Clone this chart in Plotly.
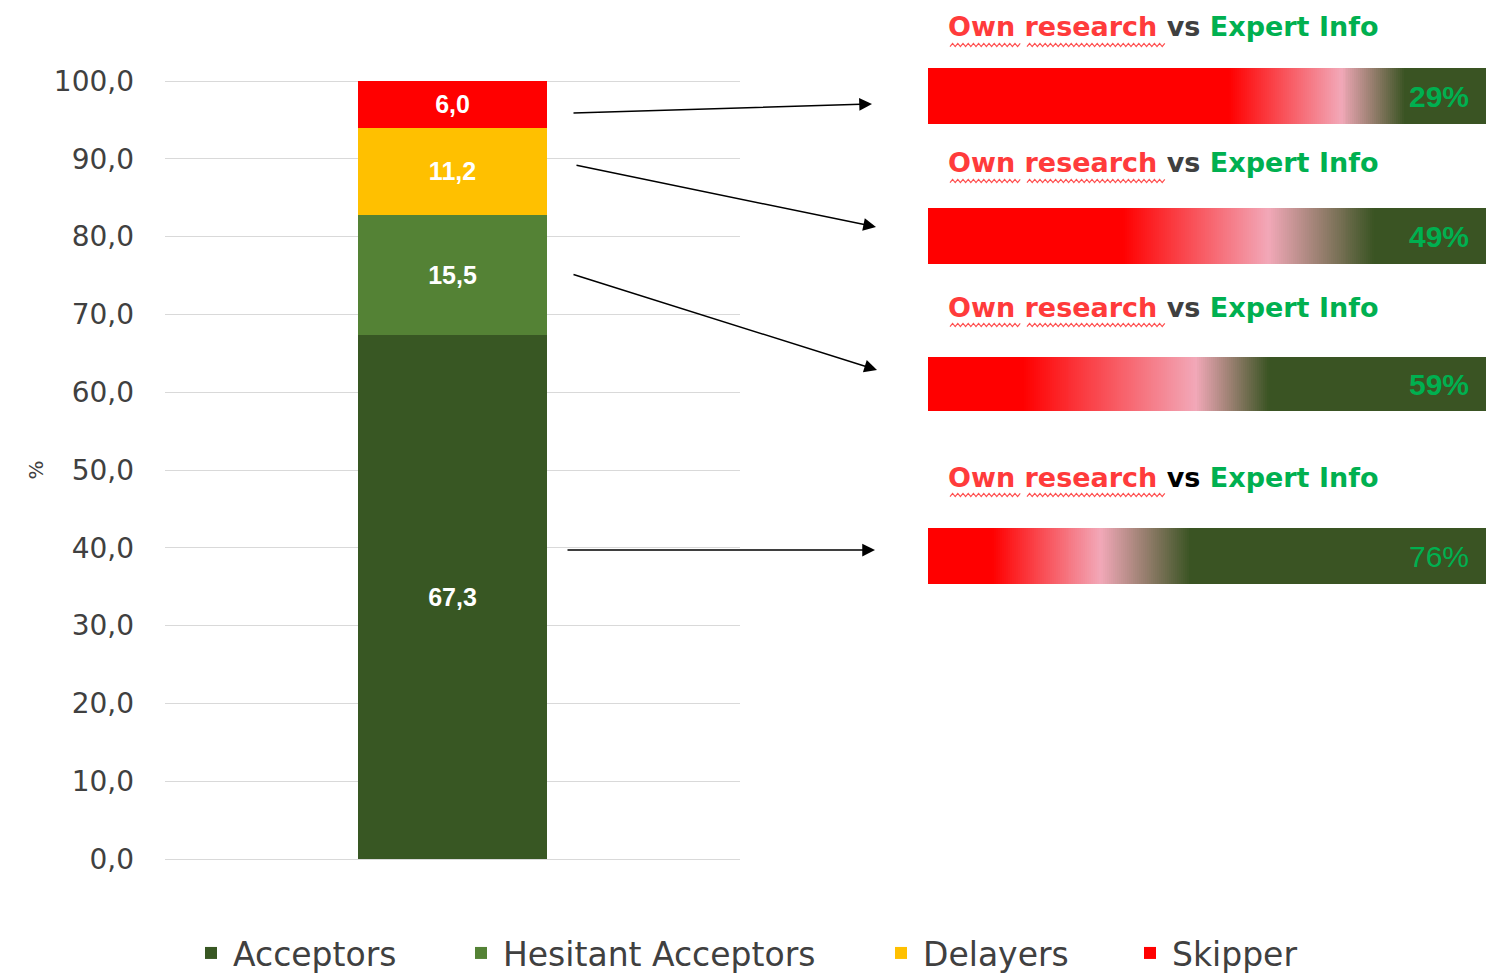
import plotly.graph_objects as go

W, H = 1487, 978

# ---------------- data ----------------
categories = ["Total"]
series_names = ["Acceptors", "Hesitant Acceptors", "Delayers", "Skipper"]
acceptors = [67.3]
hesitant_acceptors = [15.5]
delayers = [11.2]
skipper = [6.0]
series_colors = ["#385723", "#548235", "#FFC000", "#FF0000"]

y_tick_values = [0, 10, 20, 30, 40, 50, 60, 70, 80, 90, 100]

comparison_labels = ["29%", "49%", "59%", "76%"]
# gradient: fraction of bar where solid red ends,
# where the pink midpoint sits, and where solid green starts
red_end = [0.54, 0.35, 0.17, 0.115]
pink_mid = [0.74, 0.61, 0.48, 0.31]
green_start = [0.855, 0.80, 0.61, 0.47]

# ---------------- layout helpers ----------------
def px(x):
    return x / W

def py(y):
    return 1 - y / H

RED = "#FF0000"
PINK = "#F2A8B8"
DGREEN = "#3A5423"
TXT_RED = "#FF3B3B"
TXT_GREEN = "#00B050"

fig = go.Figure()

values = [acceptors, hesitant_acceptors, delayers, skipper]
for i, (name, vals, col) in enumerate(zip(series_names, values, series_colors)):
    fig.add_trace(go.Bar(
        x=categories, y=vals, name=name,
        marker=dict(color=col, line=dict(width=0)),
        width=0.329,
        texttemplate="%{y:.1f}",
        textposition="inside",
        insidetextanchor="middle",
        textangle=0,
        textfont=dict(family="Liberation Sans", size=25, color="white", weight="bold"),
        legend="legend" if i == 0 else f"legend{i+1}",
        hoverinfo="skip",
    ))

# gradient bars (heatmaps on a second pair of axes)
bar_centers = [96, 236, 384, 556]
bar_heights = [56, 56, 54, 56]
N = 280
zrow = [[(k + 0.5) / N for k in range(N)]]
for i in range(len(comparison_labels)):
    cs = [[0, RED], [red_end[i], RED], [pink_mid[i], PINK],
          [green_start[i], DGREEN], [1, DGREEN]]
    fig.add_trace(go.Heatmap(
        z=zrow, x0=0.5 / N, dx=1 / N, y0=bar_centers[i], dy=bar_heights[i],
        colorscale=cs, zmin=0, zmax=1, showscale=False, hoverinfo="skip",
        xaxis="x2", yaxis="y2", showlegend=False,
    ))

annotations = []
shapes = []

# titles above gradient bars
title_centers = [27, 163, 307, 477]
vs_colors = ["#404040", "#404040", "#404040", "#000000"]
for i, yc in enumerate(title_centers):
    annotations.append(dict(
        xref="paper", yref="paper", x=px(946), y=py(yc),
        xanchor="left", yanchor="middle", showarrow=False,
        text=(f'<span style="color:{TXT_RED}">Own research</span> '
              f'<span style="color:{vs_colors[i]}">vs</span> '
              f'<span style="color:{TXT_GREEN}">Expert Info</span>'),
        font=dict(family="DejaVu Sans", size=27, weight="bold"),
    ))
    # spell-check squiggle under "Own research"
    ys = yc + 18
    for (xa, xb) in [(950, 1021), (1027, 1165)]:
        pts = []
        x = xa
        k = 0
        while x <= xb:
            yy = ys + (1.6 if k % 2 == 0 else -1.6)
            pts.append(f"{px(x):.5f},{py(yy):.5f}")
            x += 2.6
            k += 1
        shapes.append(dict(type="path", xref="paper", yref="paper",
                           path="M" + " L".join(pts),
                           line=dict(color="#FF5050", width=1.2)))

# percentage labels
for i, lab in enumerate(comparison_labels):
    annotations.append(dict(
        xref="x2", yref="y2", x=1, y=bar_centers[i], xshift=-15,
        xanchor="right", yanchor="middle", showarrow=False,
        text=(f"<b>{lab}</b>" if i < 3 else lab),
        font=dict(family="Liberation Sans", size=30, color=TXT_GREEN),
    ))

# arrows from bar segments to gradient bars
arrow_tails = [(572, 113), (575, 165), (572, 274), (566, 550)]
arrow_heads = [(872, 104), (876, 227), (877, 370), (875, 550)]
for (tx, ty), (hx, hy) in zip(arrow_tails, arrow_heads):
    annotations.append(dict(
        xref="paper", yref="paper", x=px(hx), y=py(hy),
        ax=tx - hx, ay=ty - hy, axref="pixel", ayref="pixel",
        showarrow=True, arrowhead=2, arrowsize=1.7, arrowwidth=1.5,
        arrowcolor="black", text="", standoff=0, startstandoff=0,
    ))

legend_text_starts = [233, 503, 923, 1172]
legend_common = dict(
    orientation="h", xanchor="left", yanchor="middle", y=py(953),
    font=dict(family="DejaVu Sans", size=33, color="#404040"),
    bgcolor="rgba(0,0,0,0)", borderwidth=0, itemwidth=34,
    itemclick=False, itemdoubleclick=False,
)
legends = {}
for i, xs in enumerate(legend_text_starts):
    key = "legend" if i == 0 else f"legend{i+1}"
    legends[key] = dict(legend_common, x=px(xs - 44))

# y-axis: pixel extents of 0 and 100 in the reference, small padding so
# the end gridlines are drawn
Y0_PX, Y100_PX = 859, 81
pad = 0.2
unit = (Y0_PX - Y100_PX) / 100.0
fig.update_layout(
    width=W, height=H, autosize=False,
    margin=dict(l=0, r=0, t=0, b=0, autoexpand=False),
    paper_bgcolor="white", plot_bgcolor="white",
    barmode="stack",
    separators=",.",
    showlegend=True,
    xaxis=dict(domain=[px(165), px(740)], range=[-0.5, 0.5], type="category",
               showticklabels=False, showgrid=False, zeroline=False,
               showline=False, ticks="", fixedrange=True),
    yaxis=dict(domain=[py(Y0_PX + pad * unit), py(Y100_PX - pad * unit)],
               range=[-pad, 100 + pad],
               tickvals=y_tick_values, tickformat=".1f",
               showgrid=True, gridcolor="#D9D9D9", gridwidth=1,
               zeroline=False, showline=False, ticks="",
               ticklabelstandoff=30,
               tickfont=dict(family="DejaVu Sans", size=28, color="#404040"),
               title=dict(text="%", standoff=4,
                          font=dict(family="DejaVu Sans", size=20, color="#404040")),
               fixedrange=True),
    xaxis2=dict(domain=[px(928), px(1486)], range=[0, 1], anchor="y2",
                visible=False, fixedrange=True),
    yaxis2=dict(domain=[0, 1], range=[H, 0], anchor="x2",
                visible=False, fixedrange=True),
    annotations=annotations,
    shapes=shapes,
    **legends,
)

fig.write_html(
    "out.html",
    config={"displayModeBar": False},
    post_script="document.body.style.margin='0';document.body.style.overflow='hidden';",
)
